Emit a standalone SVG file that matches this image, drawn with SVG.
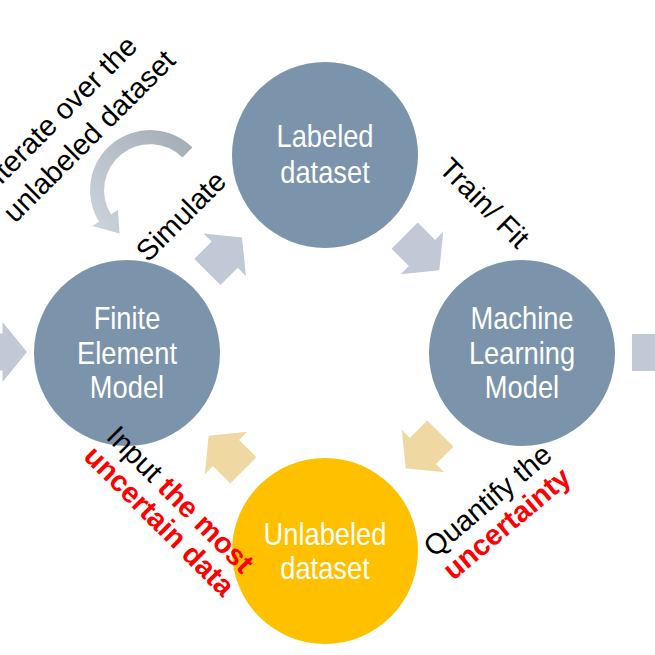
<svg xmlns="http://www.w3.org/2000/svg" xmlns:xlink="http://www.w3.org/1999/xlink" width="655" height="655" viewBox="0 0 655 655">
<style>
.node{fill:#7B93AB}
.yel{fill:#FFC000}
.nt{font-family:"Liberation Sans",Arial,sans-serif;font-size:31px;fill:#fff;text-anchor:middle}
.lbl{font-family:"Liberation Sans",Arial,sans-serif;font-size:29px;fill:#000}
.red{fill:#FF0000;font-weight:bold}
.ga{fill:#C0C9D5}
.ta{fill:#F0D8A3}
</style>
<defs>
<polygon id="arr" points="-24.5,-18.5 0,-18.5 0,-30 24.5,0 0,30 0,18.5 -24.5,18.5"/>
<linearGradient id="cg" gradientUnits="userSpaceOnUse" x1="195" y1="140" x2="95" y2="230">
<stop offset="0" stop-color="#A3ABB5"/>
<stop offset="1" stop-color="#CBD3DD"/>
</linearGradient>
</defs>
<rect width="655" height="655" fill="#fff"/>
<g id="connectors">
<use xlink:href="#arr" class="ga" transform="translate(2.5,352)"/>
<use xlink:href="#arr" class="ga" transform="translate(656.5,352.5)"/>
<use xlink:href="#arr" class="ga" transform="translate(224.7,254.7) rotate(-45)"/>
<use xlink:href="#arr" class="ga" transform="translate(422,253) rotate(45)"/>
<use xlink:href="#arr" class="ta" transform="translate(423,451) rotate(135)"/>
<use xlink:href="#arr" class="ta" transform="translate(226,453) rotate(-135)"/>
<path id="loop" fill="url(#cg)" d="M192.4,147.6 A60,60 0 0 0 99.1,221.8 L92.3,226 L119.6,233.4 L117.8,210.1 L111,214.4 A46,46 0 0 1 182.5,157.5 Z"/>
</g>
<g id="labeled">
<circle class="node" cx="325" cy="155" r="93"/>
<text class="nt" transform="translate(325,147) scale(0.88,1)">Labeled</text>
<text class="nt" transform="translate(325,183) scale(0.88,1)">dataset</text>
</g>
<g id="fem">
<circle class="node" cx="127" cy="353" r="93"/>
<text class="nt" transform="translate(127,329) scale(0.88,1)">Finite</text>
<text class="nt" transform="translate(127,364) scale(0.88,1)">Element</text>
<text class="nt" transform="translate(127,398) scale(0.88,1)">Model</text>
</g>
<g id="ml">
<circle class="node" cx="522" cy="353" r="93"/>
<text class="nt" transform="translate(522,329) scale(0.88,1)">Machine</text>
<text class="nt" transform="translate(522,364) scale(0.88,1)">Learning</text>
<text class="nt" transform="translate(522,398) scale(0.88,1)">Model</text>
</g>
<g id="unlabeled">
<circle class="yel" cx="325" cy="551" r="93"/>
<text class="nt" transform="translate(325,545) scale(0.88,1)">Unlabeled</text>
<text class="nt" transform="translate(325,579) scale(0.88,1)">dataset</text>
</g>
<g id="labels">
<g transform="translate(96,143) rotate(-45)">
<text class="lbl" x="0" y="-37" text-anchor="middle">Iterate over the</text>
<text class="lbl" x="0" y="0" text-anchor="middle">unlabeled dataset</text>
</g>
<text class="lbl" text-anchor="middle" transform="translate(188,223) rotate(-45)">Simulate</text>
<text class="lbl" text-anchor="middle" transform="translate(477.5,210) rotate(45)">Train/ Fit</text>
<g transform="translate(105,438) rotate(45)">
<text class="lbl" x="0" y="0">Input <tspan class="red">the most</tspan></text>
<text class="lbl red" x="-2" y="30">uncertain data</text>
</g>
<text class="lbl" text-anchor="middle" transform="translate(494,508) rotate(-40)">Quantify the</text>
<text class="lbl red" text-anchor="middle" transform="translate(513,531) rotate(-40)">uncertainty</text>
</g>
</svg>
